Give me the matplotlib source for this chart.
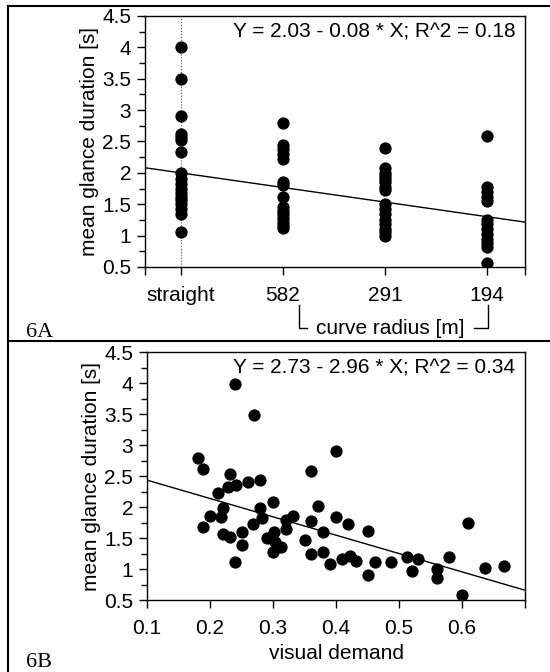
import matplotlib.pyplot as plt
from matplotlib.lines import Line2D
import numpy as np

plt.rcParams['font.family'] = ['Liberation Sans', 'DejaVu Sans']

# 6A: mean glance duration per curve category
categories = ['straight', '582', '291', '194']
straight = [4.0, 3.5, 2.9, 2.62, 2.57, 2.52, 2.34, 1.99, 1.9, 1.82, 1.75, 1.68,
            1.62, 1.56, 1.5, 1.42, 1.35, 1.05]
r582 = [2.8, 2.45, 2.38, 2.3, 2.22, 1.85, 1.8, 1.62, 1.45, 1.4, 1.35, 1.28,
        1.22, 1.17, 1.12]
r291 = [2.4, 2.07, 2.0, 1.95, 1.9, 1.85, 1.78, 1.72, 1.5, 1.42, 1.35, 1.25,
        1.18, 1.1, 1.05, 1.0]
r194 = [2.58, 1.78, 1.7, 1.62, 1.55, 1.25, 1.18, 1.1, 1.02, 0.95, 0.88, 0.82, 0.57]
groups = [straight, r582, r291, r194]
# fitted line as it appears over the category axis
fit_a = [2.0, -0.233]

# 6B: mean glance duration vs visual demand
demand = [0.240, 0.270, 0.400, 0.361, 0.181, 0.189, 0.231, 0.229, 0.241, 0.261,
          0.280, 0.212, 0.200, 0.189, 0.220, 0.218, 0.220, 0.232, 0.250, 0.250,
          0.240, 0.269, 0.280, 0.282, 0.300, 0.290, 0.301, 0.300, 0.313, 0.303,
          0.320, 0.320, 0.331, 0.350, 0.361, 0.361, 0.371, 0.380, 0.380, 0.390,
          0.400, 0.419, 0.410, 0.422, 0.431, 0.450, 0.450, 0.462, 0.487, 0.512,
          0.520, 0.530, 0.561, 0.561, 0.580, 0.610, 0.600, 0.637, 0.667]
glance = [3.99, 3.49, 2.91, 2.58, 2.79, 2.61, 2.54, 2.33, 2.36, 2.41,
          2.44, 2.22, 1.86, 1.67, 1.99, 1.84, 1.56, 1.51, 1.60, 1.38,
          1.11, 1.73, 1.98, 1.82, 2.08, 1.50, 1.60, 1.27, 1.36, 1.44,
          1.65, 1.79, 1.86, 1.47, 1.77, 1.25, 2.02, 1.59, 1.27, 1.08,
          1.84, 1.72, 1.16, 1.21, 1.13, 1.61, 0.91, 1.11, 1.11, 1.19,
          0.97, 1.16, 1.00, 0.86, 1.19, 1.75, 0.58, 1.02, 1.05]
fit_b = [2.73, -2.96]

fig = plt.figure(figsize=(5.5, 6.72), dpi=100)
fs = 15

def style(ax):
    ax.set_ylim(0.5, 4.5)
    ax.set_yticks(np.arange(0.5, 4.51, 0.5))
    ax.set_yticklabels(['0.5', '1', '1.5', '2', '2.5', '3', '3.5', '4', '4.5'])
    ax.set_yticks(np.arange(0.75, 4.5, 0.5), minor=True)
    ax.tick_params(axis='both', which='major', direction='out', length=6,
                   width=1, labelsize=fs, pad=4)
    ax.tick_params(axis='y', which='minor', direction='out', length=4, width=1)
    ax.set_ylabel('mean glance duration [s]', fontsize=fs, labelpad=2)
    for s in ax.spines.values():
        s.set_linewidth(1)

# ---- 6A
ax1 = fig.add_axes([0.2636, 0.6027, 0.691, 0.3735])
pos = np.arange(len(categories))
ax1.axvline(0, color='0.3', lw=0.8, ls=':', zorder=1)
for p, vals in zip(pos, groups):
    ax1.scatter([p] * len(vals), vals, s=78, color='black', zorder=3, linewidths=0)
ax1.set_xlim(-0.35, 3.37)
xl = np.array(ax1.get_xlim())
ax1.plot(xl, fit_a[0] + fit_a[1] * xl, color='black', lw=1, zorder=2)
ax1.set_xticks(pos)
ax1.set_xticklabels(categories)
ax1.set_xticks(xl, minor=True)
ax1.tick_params(axis='x', which='minor', direction='out', length=6, width=1)
style(ax1)
ax1.tick_params(axis='x', pad=8)
ax1.text(0.975, 0.975, 'Y = 2.03 - 0.08 * X; R^2 = 0.18', transform=ax1.transAxes,
         ha='right', va='top', fontsize=fs)

# ---- 6B
ax2 = fig.add_axes([0.2673, 0.1071, 0.6873, 0.369])
ax2.scatter(demand, glance, s=78, color='black', zorder=3, linewidths=0)
ax2.set_xlim(0.1, 0.7)
xb = np.array(ax2.get_xlim())
ax2.plot(xb, fit_b[0] + fit_b[1] * xb, color='black', lw=1, zorder=2)
ax2.set_xticks(np.arange(0.1, 0.71, 0.1))
ax2.set_xticklabels(['0.1', '0.2', '0.3', '0.4', '0.5', '0.6', ''])
style(ax2)
ax2.tick_params(axis='x', pad=8)
ax2.set_xlabel('visual demand', fontsize=fs, labelpad=4)
ax2.text(0.975, 0.975, 'Y = 2.73 - 2.96 * X; R^2 = 0.34', transform=ax2.transAxes,
         ha='right', va='top', fontsize=fs)

# panel frame and labels (figure pixel coords -> fractions)
W, H = 550, 672
def fx(x): return x / W
def fy(y): return 1 - y / H
for xs, ys in [([8, 8], [6, 672]), ([8, 550], [6, 6]), ([8, 550], [341, 341])]:
    fig.add_artist(Line2D([fx(v) for v in xs], [fy(v) for v in ys],
                          color='black', lw=1.5))
fig.text(fx(26), fy(337), '6A', family='Liberation Serif', fontsize=16, va='baseline')
fig.text(fx(26), fy(667), '6B', family='Liberation Serif', fontsize=16, va='baseline')

# curve radius bracket
fig.add_artist(Line2D([fx(299), fx(299), fx(307)], [fy(305), fy(328), fy(328)],
                      color='black', lw=1))
fig.add_artist(Line2D([fx(474), fx(488), fx(488)], [fy(328), fy(328), fy(305)],
                      color='black', lw=1))
fig.text(fx(390), fy(328), 'curve radius [m]', fontsize=fs, ha='center', va='center')

fig.savefig('out.png', dpi=100)
